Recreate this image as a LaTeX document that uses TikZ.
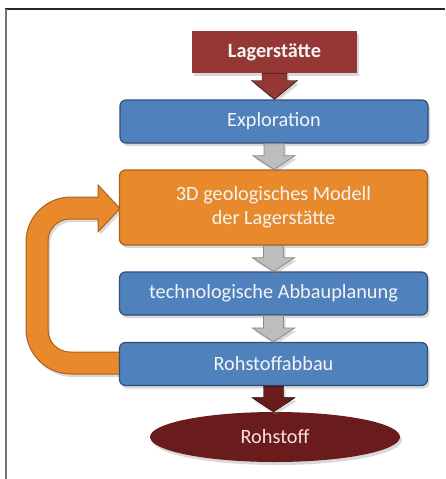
\documentclass[tikz,border=0pt]{standalone}
\usepackage{fontspec}
\setmainfont{Carlito}
\usetikzlibrary{shapes.geometric,shadows,calc}
\definecolor{lagred}{HTML}{953735}
\definecolor{bluefill}{HTML}{4F81BD}
\definecolor{blueline}{HTML}{2E4F78}
\definecolor{orfill}{HTML}{E8892C}
\definecolor{orline}{HTML}{A8621F}
\definecolor{maroonc}{HTML}{6A1C1C}
\definecolor{grayfill}{HTML}{BDBDBD}
\definecolor{grayline}{HTML}{8A8A8A}
\definecolor{txt}{HTML}{F4F4F4}
\definecolor{txtpink}{HTML}{F4E2E0}
\newcommand\blockarr[6]{%
  \filldraw[#1] let \p1=(#2.south), \p2=(#3.north) in
    ({\x1-#4},\y1) -- ({\x1-#4},{\y1-#6*(\y1-\y2)}) -- ({\x1-#5},{\y1-#6*(\y1-\y2)})
    -- (\x1,\y2) -- ({\x1+#5},{\y1-#6*(\y1-\y2)}) -- ({\x1+#4},{\y1-#6*(\y1-\y2)})
    -- ({\x1+#4},\y1) -- cycle;}
\tikzset{
  shad/.style={drop shadow={opacity=0.3, shadow xshift=2pt, shadow yshift=-3pt}},
  boxfont/.style={font=\fontsize{20.3}{24}\selectfont},
  bluebox/.style={draw=blueline, line width=1.2pt, fill=bluefill, rounded corners=6pt,
    minimum width=308pt, minimum height=43pt, text=txt, boxfont, shad, inner sep=0pt, align=center},
  orbox/.style={bluebox, draw=orline, fill=orfill, minimum height=75pt},
  lagbox/.style={fill=lagred, minimum width=165pt, minimum height=42pt, inner sep=0pt,
    text=txt, font=\fontsize{20.3}{24}\selectfont\bfseries, shad},
  rohell/.style={ellipse, fill=maroonc, minimum width=250pt, minimum height=50pt, inner sep=0pt,
    text=txtpink, boxfont, shad},
  grayarr/.style={fill=grayfill, draw=grayline, line width=0.8pt, shad},
  lagarr/.style={fill=lagred, shad},
  mararr/.style={fill=maroonc, shad},
  loopstyle/.style={fill=orfill, draw=orline, line width=1pt, shad},
}
\begin{document}
\begin{tikzpicture}[x=1pt,y=-1pt]
\useasboundingbox (0,0) rectangle (445,479);
% frame
\draw[line width=1.5pt, black!85] (5,9) -- (445,9);
\draw[line width=2pt, black!55] (6,8.5) -- (6,479);
% feedback loop
\filldraw[loopstyle] (125,352) -- (70,352) arc (90:180:22) -- (48,241) arc (180:270:22)
  -- (98,219) -- (98,232) -- (120,208.5) -- (98,185) -- (98,197) -- (71,197)
  arc (270:180:45) -- (26,329) arc (180:90:45) -- (125,374) -- cycle;
% nodes
\node[lagbox] (lag) at (274.5,52) {Lagerstätte};
\node[bluebox] (expl) at (274,121.5) {Exploration};
\node[orbox] (model) at (273.5,207.5) {3D geologisches Modell\\der Lagerstätte};
\node[bluebox] (tech) at (273.5,293.5) {technologische Abbauplanung};
\node[bluebox] (abbau) at (273.5,364) {Rohstoffabbau};
\node[rohell] (roh) at (275,437) {Rohstoff};
% block arrows
\blockarr{lagarr}{lag}{expl}{12.5pt}{23pt}{0.28}
\blockarr{grayarr}{expl}{model}{10pt}{21pt}{0.47}
\blockarr{grayarr}{model}{tech}{10pt}{21pt}{0.47}
\blockarr{grayarr}{tech}{abbau}{10pt}{21pt}{0.47}
\blockarr{mararr}{abbau}{roh}{10pt}{21.5pt}{0.45}
\end{tikzpicture}
\end{document}
